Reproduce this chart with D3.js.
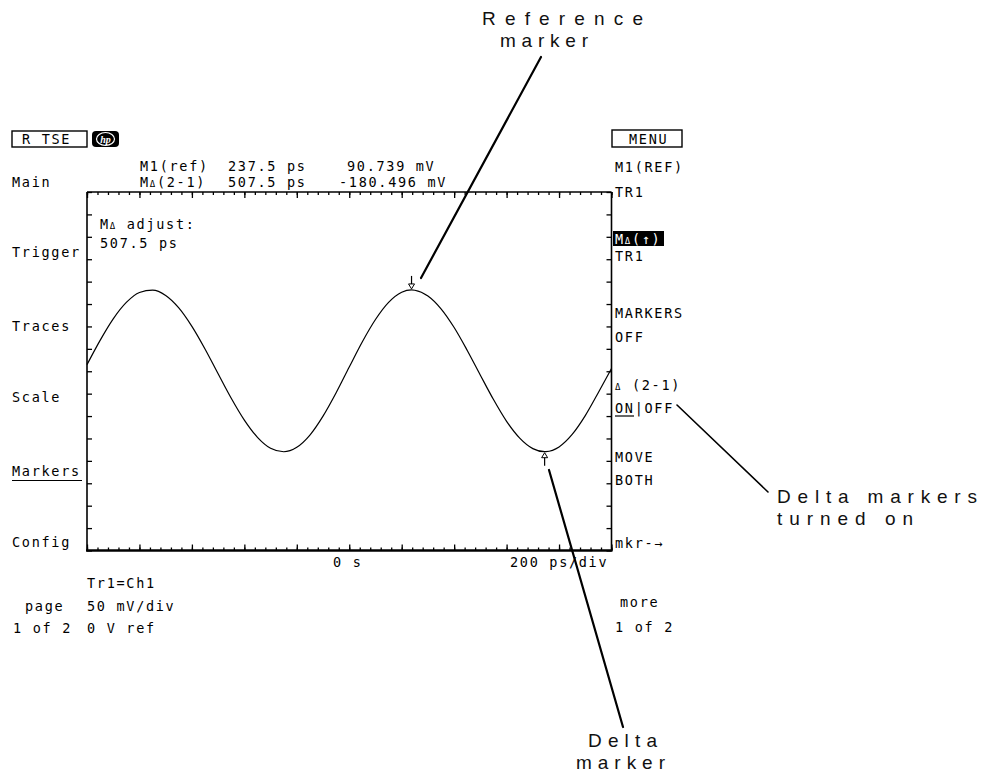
<!DOCTYPE html>
<html>
<head>
<meta charset="utf-8">
<script src="https://cdn.jsdelivr.net/npm/d3@7"></script>
<style>
  html, body { margin: 0; padding: 0; background: #fff; }
  svg { display: block; }
  .scr { font-family: "DejaVu Sans Mono", monospace; font-size: 13.5px; letter-spacing: 1.7px; fill: #000; }
  .ann { font-family: "Liberation Sans", Arial, sans-serif; font-size: 19px; fill: #111; }
</style>
</head>
<body>
<svg id="chart" width="982" height="780"></svg>
<script>
// ---------------- DATA ----------------
// Trace samples read from the screen (time in ps, voltage in mV)
const timePs = [-1000,-950,-900,-850,-800,-750,-700,-650,-600,-550,-500,-450,-400,-350,-300,-250,
  -200,-150,-100,-50,0,50,100,150,200,237.5,250,300,350,400,450,500,550,600,650,700,745,750,
  800,850,900,950,1000];
const voltMv = [7.4,34.5,58.5,76.8,87.9,90.5,84.6,70.7,50.1,24.9,-2.8,-30.1,-54.5,-73.7,-85.9,-89.8,
  -84.8,-71.2,-50.1,-24.0,4.7,32.9,57.7,76.8,88.1,90.739,90.4,84.0,69.7,48.8,23.2,-4.4,-31.6,-55.9,-74.6,-86.3,-89.757,-89.7,
  -84.4,-70.5,-49.5,-23.7,3.0];
// Markers
const markerNames = ["M1(ref)", "MΔ(2-1)"];
const markerTimePs = [237.5, 745];
const markerVoltMv = [90.739, -89.757];
const markerReadTime = ["237.5 ps", "507.5 ps"];
const markerReadVolt = ["90.739 mV", "-180.496 mV"];
// Axis settings
const timeDomain = [-1000, 1000];   // 200 ps/div, 10 div
const voltDomain = [-200, 200];     // 50 mV/div, 8 div
const timeLabels = ["0 s", "200 ps/div"];
// Menus
const leftMenu = ["Main", "Trigger", "Traces", "Scale", "Markers", "Config"];
const rightMenu = ["M1(REF)", "TR1", "MΔ(↑)", "TR1", "MARKERS", "OFF", "Δ (2-1)", "ON|OFF", "MOVE", "BOTH", "mkr-→"];
const bottomInfo = ["Tr1=Ch1", "50 mV/div", "0 V ref"];
const pageInfo = ["page", "1 of 2"];
const moreInfo = ["more", "1 of 2"];
const callouts = [["Reference", "marker"], ["Delta markers", "turned on"], ["Delta", "marker"]];

// ---------------- DRAW ----------------
const svg = d3.select("#chart");
svg.append("rect").attr("width", 982).attr("height", 780).attr("fill", "#fff");

const X0 = 87, X1 = 611.5, Y0 = 192, Y1 = 550.5;
const x = d3.scaleLinear().domain(timeDomain).range([X0, X1]);
const y = d3.scaleLinear().domain(voltDomain).range([Y1, Y0]);

const g = svg.append("g");

// Axes ticks (inward)
const minorT = d3.range(timeDomain[0], timeDomain[1] + 1, 40);
const majorT = d3.range(timeDomain[0], timeDomain[1] + 1, 200);
const minorV = d3.range(voltDomain[0], voltDomain[1] + 1, 25);

function styleAxis(sel) {
  sel.select(".domain").remove();
  sel.selectAll("line").attr("stroke", "#000").attr("stroke-width", 1.3);
}
g.append("g").attr("transform", `translate(0,${Y1})`)
  .call(d3.axisBottom(x).tickValues(minorT).tickSize(-3).tickFormat("")).call(styleAxis);
g.append("g").attr("transform", `translate(0,${Y1})`)
  .call(d3.axisBottom(x).tickValues(majorT).tickSize(-6).tickFormat("")).call(styleAxis);
g.append("g").attr("transform", `translate(0,${Y0})`)
  .call(d3.axisTop(x).tickValues(minorT).tickSize(-3).tickFormat("")).call(styleAxis);
g.append("g").attr("transform", `translate(0,${Y0})`)
  .call(d3.axisTop(x).tickValues(majorT).tickSize(-6).tickFormat("")).call(styleAxis);
g.append("g").attr("transform", `translate(${X0},0)`)
  .call(d3.axisLeft(y).tickValues(minorV).tickSize(-5).tickFormat("")).call(styleAxis);
g.append("g").attr("transform", `translate(${X1},0)`)
  .call(d3.axisRight(y).tickValues(minorV).tickSize(-5).tickFormat("")).call(styleAxis);

// Borders
g.append("line").attr("x1", X0).attr("x2", X1).attr("y1", Y0).attr("y2", Y0).attr("stroke", "#000").attr("stroke-width", 1.6);
g.append("line").attr("x1", X0 - 1).attr("x2", X1 + 1).attr("y1", Y1).attr("y2", Y1).attr("stroke", "#000").attr("stroke-width", 2.6);
g.append("line").attr("x1", X0).attr("x2", X0).attr("y1", Y0).attr("y2", Y1).attr("stroke", "#000").attr("stroke-width", 1.6);
g.append("line").attr("x1", X1).attr("x2", X1).attr("y1", Y0).attr("y2", Y1).attr("stroke", "#000").attr("stroke-width", 1.6);

// Trace
const pts = timePs.map((t, i) => [t, voltMv[i]]);
g.append("path").datum(pts)
  .attr("fill", "none").attr("stroke", "#000").attr("stroke-width", 1.2)
  .attr("d", d3.line().x(d => x(d[0])).y(d => y(d[1])).curve(d3.curveMonotoneX));

// Marker symbols
{
  const mx = x(markerTimePs[0]), my = y(markerVoltMv[0]);
  g.append("line").attr("x1", mx).attr("x2", mx).attr("y1", my - 14).attr("y2", my - 2).attr("stroke", "#000").attr("stroke-width", 1.2);
  g.append("path").attr("d", `M${mx-3},${my-6} L${mx+3},${my-6} L${mx},${my-1} Z`).attr("fill", "#fff").attr("stroke", "#000").attr("stroke-width", 1);
  const dx = x(markerTimePs[1]), dy = y(markerVoltMv[1]);
  g.append("line").attr("x1", dx).attr("x2", dx).attr("y1", dy + 2).attr("y2", dy + 14).attr("stroke", "#000").attr("stroke-width", 1.2);
  g.append("path").attr("d", `M${dx-3},${dy+6} L${dx+3},${dy+6} L${dx},${dy+1} Z`).attr("fill", "#fff").attr("stroke", "#000").attr("stroke-width", 1);
}

// Helper for screen text
function txt(str, tx, ty, cls = "scr") {
  return svg.append("text").attr("class", cls).attr("x", tx).attr("y", ty).text(str);
}
function deltaText(prefix, suffix, tx, ty, fill) {
  const t = svg.append("text").attr("class", "scr").attr("x", tx).attr("y", ty);
  if (fill) t.style("fill", fill);
  t.append("tspan").text(prefix);
  t.append("tspan").attr("font-size", "9px").text("Δ");
  t.append("tspan").text(suffix);
  return t;
}

// Header boxes
svg.append("rect").attr("x", 12).attr("y", 131).attr("width", 75).attr("height", 16).attr("fill", "none").attr("stroke", "#000").attr("stroke-width", 1.4);
txt("R TSE", 22, 144);
svg.append("rect").attr("x", 92).attr("y", 131).attr("width", 27).attr("height", 16).attr("rx", 4).attr("fill", "#000");
svg.append("ellipse").attr("cx", 105.5).attr("cy", 139).attr("rx", 9).attr("ry", 6.5).attr("fill", "none").attr("stroke", "#fff").attr("stroke-width", 1.2);
svg.append("text").attr("x", 105.5).attr("y", 142.5).attr("text-anchor", "middle")
  .style("font-family", "Liberation Serif, serif").style("font-style", "italic").style("font-weight", "bold")
  .style("font-size", "10px").style("fill", "#fff").text("hp");

svg.append("rect").attr("x", 612).attr("y", 130).attr("width", 70).attr("height", 17).attr("fill", "none").attr("stroke", "#000").attr("stroke-width", 1.4);
txt("MENU", 629, 144);

// Marker readouts
txt(markerNames[0], 140, 171);
txt(markerReadTime[0], 228, 171);
txt(markerReadVolt[0], 347, 171);
deltaText("M", "(2-1)", 140, 187);
txt(markerReadTime[1], 228, 187);
txt(markerReadVolt[1], 339, 187);

// In-plot adjust text
deltaText("M", " adjust:", 100, 229);
txt(markerReadTime[1], 100, 248);

// Left menu
const leftMenuY = [187, 257, 331, 402, 476, 547];
leftMenu.forEach((s, i) => txt(s, 12, leftMenuY[i]));
svg.append("line").attr("x1", 12).attr("x2", 82).attr("y1", 480.5).attr("y2", 480.5).attr("stroke", "#000").attr("stroke-width", 1.2);

// Right menu
const RX = 615;
txt(rightMenu[0], RX, 172);
txt(rightMenu[1], RX, 197);
svg.append("rect").attr("x", 613).attr("y", 231).attr("width", 51).attr("height", 15).attr("fill", "#000");
deltaText("M", "(↑)", RX, 243.5, "#fff");
txt(rightMenu[3], RX, 261);
txt(rightMenu[4], RX, 318);
txt(rightMenu[5], RX, 342);
{
  const t = svg.append("text").attr("class", "scr").attr("x", RX).attr("y", 390);
  t.append("tspan").attr("font-size", "9px").text("Δ");
  t.append("tspan").text(" (2-1)");
}
txt(rightMenu[7], RX, 413);
svg.append("line").attr("x1", RX).attr("x2", RX + 19).attr("y1", 416).attr("y2", 416).attr("stroke", "#000").attr("stroke-width", 1.2);
txt(rightMenu[8], RX, 462);
txt(rightMenu[9], RX, 485);
txt(rightMenu[10], RX, 548);

// Axis labels
txt(timeLabels[0], 333, 567);
txt(timeLabels[1], 510, 567);

// Bottom info
txt(bottomInfo[0], 87, 588);
txt(pageInfo[0], 25, 611);
txt(bottomInfo[1], 87, 611);
txt(pageInfo[1], 13, 633);
txt(bottomInfo[2], 87, 633);
txt(moreInfo[0], 620, 607);
txt(moreInfo[1], 615, 632);

// Callout lines
const lineStyle = s => s.attr("stroke", "#000").attr("stroke-linecap", "round");
lineStyle(svg.append("line").attr("x1", 541).attr("y1", 57).attr("x2", 421).attr("y2", 278).attr("stroke-width", 2.2));
lineStyle(svg.append("line").attr("x1", 677).attr("y1", 405).attr("x2", 768).attr("y2", 492).attr("stroke-width", 1.6));
lineStyle(svg.append("line").attr("x1", 549).attr("y1", 470).attr("x2", 623).attr("y2", 727).attr("stroke-width", 2.2));

// Callout text
function ann(str, tx, ty, len) {
  return svg.append("text").attr("class", "ann").attr("x", tx).attr("y", ty)
    .attr("textLength", len).attr("lengthAdjust", "spacing").text(str);
}
ann(callouts[0][0], 482, 25, 161);
ann(callouts[0][1], 500, 47, 88);
ann(callouts[1][0], 777, 503, 200);
ann(callouts[1][1], 777, 525, 136);
ann(callouts[2][0], 588, 747, 69);
ann(callouts[2][1], 576, 769, 89);
</script>
</body>
</html>
